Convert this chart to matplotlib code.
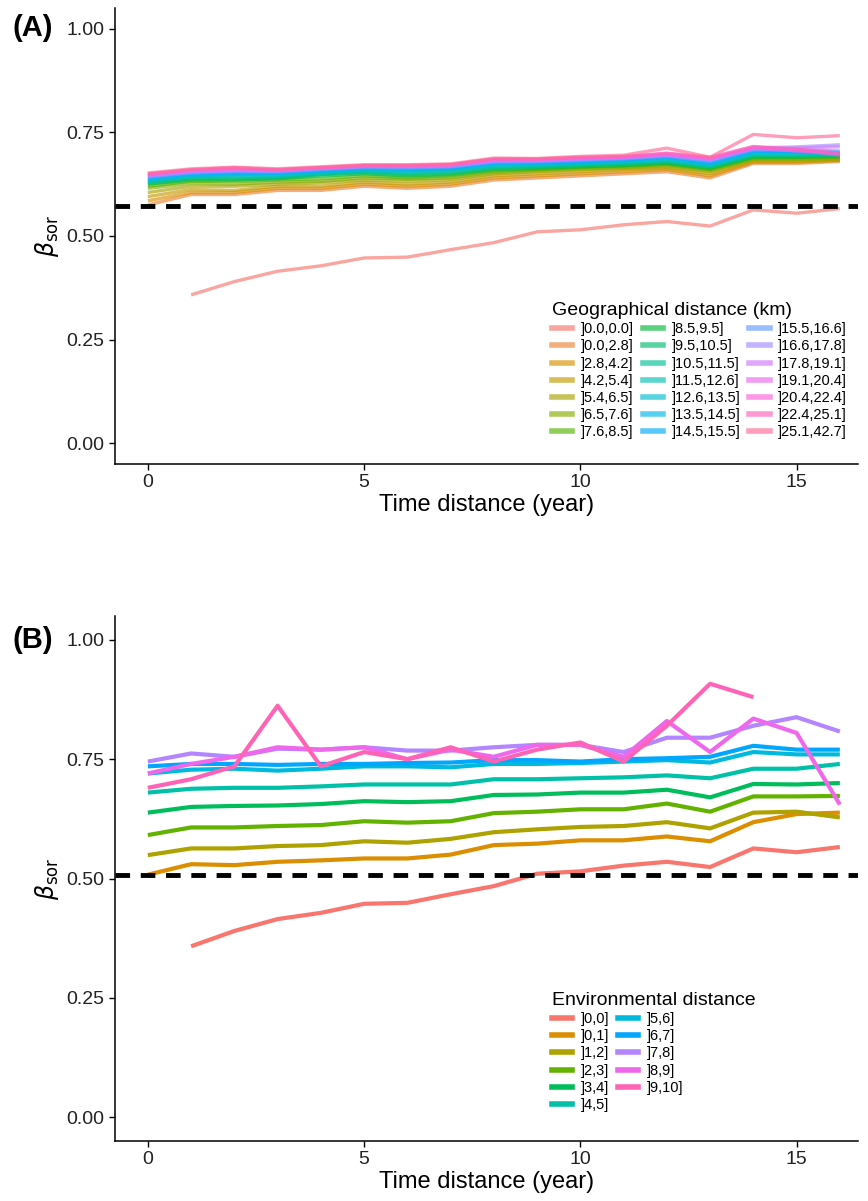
import numpy as np
import matplotlib
matplotlib.use("Agg")
import matplotlib.pyplot as plt
from matplotlib.lines import Line2D

plt.rcParams["font.family"] = ["Liberation Sans", "DejaVu Sans"]

# ------------------------------------------------------------
# data
# ------------------------------------------------------------
time_years = list(range(17))

zero_dist = [np.nan, .358, .390, .415, .428, .447, .449, .467, .484, .510, .515,
             .527, .535, .524, .563, .555, .566]

geo_labels = ["]0.0,0.0]", "]0.0,2.8]", "]2.8,4.2]", "]4.2,5.4]", "]5.4,6.5]",
              "]6.5,7.6]", "]7.6,8.5]", "]8.5,9.5]", "]9.5,10.5]", "]10.5,11.5]",
              "]11.5,12.6]", "]12.6,13.5]", "]13.5,14.5]", "]14.5,15.5]",
              "]15.5,16.6]", "]16.6,17.8]", "]17.8,19.1]", "]19.1,20.4]",
              "]20.4,22.4]", "]22.4,25.1]", "]25.1,42.7]"]
geo_values = [
    zero_dist,
    [.575, .600, .600, .610, .610, .620, .615, .620, .635, .640, .645, .650, .655, .640, .675, .675, .680],
    [.585, .605, .605, .615, .615, .625, .620, .625, .640, .645, .650, .655, .660, .645, .678, .678, .682],
    [.595, .612, .610, .620, .620, .630, .625, .630, .645, .650, .655, .660, .663, .650, .680, .680, .683],
    [.605, .620, .620, .625, .628, .635, .632, .636, .650, .655, .660, .663, .667, .655, .683, .683, .685],
    [.615, .627, .625, .630, .632, .640, .637, .640, .653, .658, .662, .665, .670, .658, .685, .685, .687],
    [.620, .632, .632, .635, .638, .645, .640, .645, .657, .660, .665, .668, .673, .660, .688, .688, .690],
    [.625, .635, .635, .638, .645, .650, .645, .648, .660, .663, .667, .670, .675, .663, .690, .690, .692],
    [.628, .638, .638, .640, .648, .653, .648, .652, .663, .666, .670, .673, .678, .666, .692, .692, .694],
    [.630, .640, .642, .642, .650, .655, .652, .655, .666, .668, .672, .675, .680, .668, .695, .695, .696],
    [.632, .643, .645, .645, .652, .657, .655, .658, .668, .670, .674, .677, .683, .670, .698, .698, .697],
    [.635, .645, .648, .648, .654, .660, .657, .660, .671, .673, .676, .680, .686, .672, .700, .700, .698],
    [.637, .647, .650, .650, .656, .662, .660, .662, .674, .675, .678, .682, .688, .675, .703, .702, .700],
    [.640, .650, .652, .652, .658, .664, .662, .664, .676, .677, .680, .684, .690, .677, .705, .704, .702],
    [.642, .652, .655, .654, .660, .665, .664, .666, .678, .679, .682, .686, .692, .680, .708, .708, .705],
    [.644, .654, .657, .656, .662, .667, .666, .668, .680, .681, .684, .688, .694, .683, .712, .715, .720],
    [.646, .656, .659, .658, .663, .668, .668, .670, .682, .682, .686, .689, .695, .685, .710, .712, .715],
    [.648, .658, .661, .659, .664, .669, .669, .671, .683, .684, .687, .690, .697, .686, .712, .705, .700],
    [.649, .659, .663, .660, .665, .670, .670, .672, .685, .685, .689, .691, .699, .688, .715, .708, .695],
    [.650, .660, .665, .660, .665, .670, .670, .672, .686, .686, .690, .692, .700, .690, .716, .710, .700],
    [.652, .662, .666, .662, .667, .672, .672, .674, .688, .687, .692, .695, .712, .690, .745, .737, .742],
]
geo_ref = 0.572

env_labels = ["]0,0]", "]0,1]", "]1,2]", "]2,3]", "]3,4]", "]4,5]",
              "]5,6]", "]6,7]", "]7,8]", "]8,9]", "]9,10]"]
env_values = [
    zero_dist,
    [.508, .530, .528, .535, .538, .542, .542, .550, .570, .573, .580, .580, .588, .578, .618, .635, .638],
    [.549, .563, .563, .568, .570, .578, .575, .583, .597, .603, .608, .610, .618, .605, .638, .640, .628],
    [.591, .607, .607, .610, .612, .620, .617, .620, .637, .640, .645, .645, .657, .640, .672, .672, .673],
    [.638, .650, .652, .653, .656, .662, .660, .662, .675, .676, .680, .680, .686, .670, .698, .697, .700],
    [.680, .688, .690, .690, .693, .697, .697, .697, .708, .708, .710, .712, .716, .710, .730, .730, .740],
    [.720, .728, .730, .726, .730, .735, .735, .733, .740, .740, .742, .745, .748, .743, .765, .760, .760],
    [.735, .740, .740, .738, .740, .740, .742, .743, .748, .748, .745, .750, .752, .755, .778, .770, .770],
    [.745, .762, .755, .772, .770, .775, .768, .768, .775, .780, .780, .765, .795, .795, .820, .838, .808],
    [.720, .740, .755, .775, .770, .775, .750, .770, .755, .780, .780, .755, .830, .765, .835, .805, .655],
    [.690, .708, .735, .862, .735, .765, .750, .775, .745, .770, .785, .745, .820, .908, .880, np.nan, np.nan],
]
env_ref = 0.508


# ------------------------------------------------------------
# ggplot2 default hue palette (hcl, c=100, l=65)
# ------------------------------------------------------------
def hue_pal(n):
    hues = np.linspace(15, 375, n + 1)[:-1]
    L, C = 65.0, 100.0
    Xn, Yn, Zn = 0.95047, 1.0, 1.08883
    un = 4 * Xn / (Xn + 15 * Yn + 3 * Zn)
    vn = 9 * Yn / (Xn + 15 * Yn + 3 * Zn)
    cols = []
    for h in hues:
        u = C * np.cos(np.radians(h))
        v = C * np.sin(np.radians(h))
        Y = Yn * ((L + 16) / 116) ** 3
        up = u / (13 * L) + un
        vp = v / (13 * L) + vn
        X = Y * 9 * up / (4 * vp)
        Z = Y * (12 - 3 * up - 20 * vp) / (4 * vp)
        rgb = np.array([[3.2406, -1.5372, -0.4986],
                        [-0.9689, 1.8758, 0.0415],
                        [0.0557, -0.2040, 1.0570]]) @ np.array([X, Y, Z])
        rgb = np.where(rgb <= 0.0031308, 12.92 * rgb, 1.055 * np.power(np.clip(rgb, 0, None), 1 / 2.4) - 0.055)
        cols.append(tuple(np.clip(rgb, 0, 1)))
    return cols


def style_axes(ax):
    ax.set_xlim(-0.76, 16.42)
    ax.set_ylim(-0.05, 1.05)
    ax.set_xticks([0, 5, 10, 15])
    ax.set_yticks([0, 0.25, 0.5, 0.75, 1.0])
    ax.set_yticklabels(["0.00", "0.25", "0.50", "0.75", "1.00"])
    for s in ["top", "right"]:
        ax.spines[s].set_visible(False)
    for s in ["left", "bottom"]:
        ax.spines[s].set_linewidth(1.1)
    ax.tick_params(labelsize=14, labelcolor="#222222", length=4, width=1.0)
    ax.set_xlabel("Time distance (year)", fontsize=17, labelpad=2)
    ax.set_ylabel(r"$\beta_{\mathrm{sor}}$", fontsize=17, labelpad=4)


fig = plt.figure(figsize=(8.68, 12.01), dpi=100)
W, H = 868, 1201
axA = fig.add_axes([115 / W, 1 - 464 / H, 743 / W, 456 / H])
axB = fig.add_axes([115 / W, 1 - 1141 / H, 743 / W, 525 / H])

# panel A
colsA = hue_pal(len(geo_labels))
handlesA = []
for lab, vals, c in zip(geo_labels, geo_values, colsA):
    axA.plot(time_years, vals, color=c, lw=2.4, alpha=0.65, solid_capstyle="butt")
    handlesA.append(Line2D([], [], color=c, lw=4, alpha=0.65, label=lab))
axA.axhline(geo_ref, color="black", lw=3.5, ls=(0, (3, 2.2)))
style_axes(axA)
legA = axA.legend(handles=handlesA, title="Geographical distance (km)", ncol=3,
                  loc="lower left", bbox_to_anchor=(0.57, 0.025), frameon=False,
                  fontsize=10.5, title_fontsize=14, handlelength=1.4,
                  columnspacing=0.6, labelspacing=0.22, handletextpad=0.6)
legA._legend_box.align = "left"

# panel B
colsB = hue_pal(len(env_labels))
handlesB = []
for lab, vals, c in zip(env_labels, env_values, colsB):
    axB.plot(time_years, vals, color=c, lw=3.0, solid_capstyle="butt")
    handlesB.append(Line2D([], [], color=c, lw=4, label=lab))
axB.axhline(env_ref, color="black", lw=3.5, ls=(0, (3, 2.2)))
style_axes(axB)
legB = axB.legend(handles=handlesB, title="Environmental distance", ncol=2,
                  loc="lower left", bbox_to_anchor=(0.57, 0.03), frameon=False,
                  fontsize=10.5, title_fontsize=14, handlelength=1.4,
                  columnspacing=0.6, labelspacing=0.22, handletextpad=0.6)
legB._legend_box.align = "left"

fig.text(12 / W, 1 - 28 / H, "(A)", fontsize=21, fontweight="bold", va="center")
fig.text(12 / W, 1 - 640 / H, "(B)", fontsize=21, fontweight="bold", va="center")

fig.savefig("out.png", dpi=100)
